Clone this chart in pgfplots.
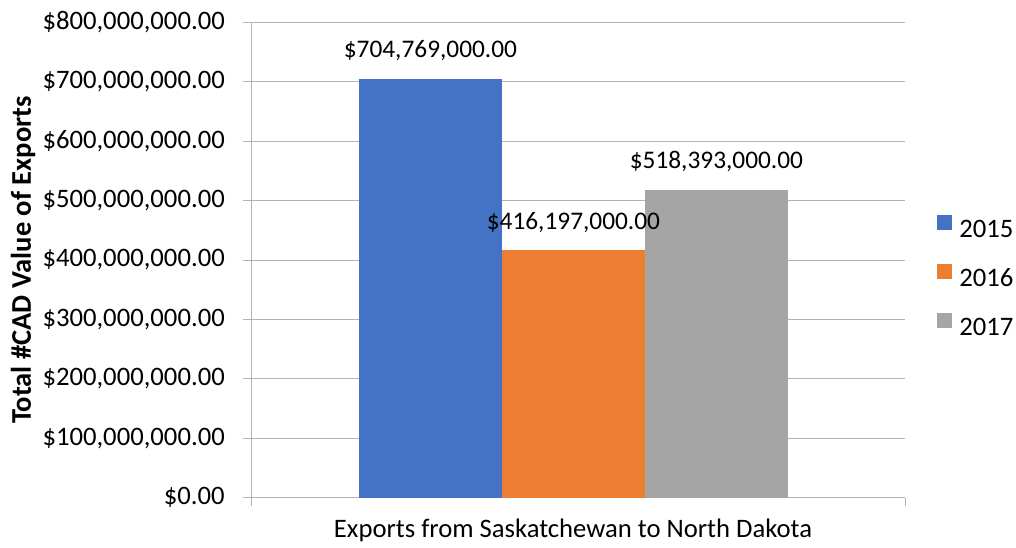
\documentclass[border=0pt]{standalone}
\usepackage{fontspec}
\setmainfont{Carlito}
\usepackage{pgfplots}
\pgfplotsset{compat=1.18}
\definecolor{c2015}{HTML}{4472C4}
\definecolor{c2016}{HTML}{ED7D31}
\definecolor{c2017}{HTML}{A5A5A5}
\definecolor{gridc}{HTML}{B3B3B3}
\pgfplotsset{
  sq legend/.style={legend image code/.code={
    \fill[##1,draw=none] (0pt,0pt) rectangle (11.25pt,11.25pt);
    \path (16.5pt,0pt);}},
}
\begin{document}
\fontsize{20pt}{24pt}\selectfont
\begin{tikzpicture}
\begin{axis}[
  at={(188.25pt,37pt)}, anchor=south west,
  scale only axis, width=490.5pt, height=356.5pt,
  ybar=0pt, bar width=107.25pt,
  xmin=-0.986, xmax=1.014,
  ymin=0, ymax=800000000,
  xtick={-0.986,1.014}, xticklabels={,},
  ytick={0,100000000,200000000,300000000,400000000,500000000,600000000,700000000,800000000},
  yticklabels={{\$0.00},{\$100,000,000.00},{\$200,000,000.00},{\$300,000,000.00},{\$400,000,000.00},{\$500,000,000.00},{\$600,000,000.00},{\$700,000,000.00},{\$800,000,000.00}},
  scaled y ticks=false,
  axis x line*=bottom, axis y line*=left,
  axis line style={gridc, line width=0.75pt},
  tick align=outside, major tick length=6pt,
  tick style={gridc, line width=0.75pt},
  ymajorgrids, grid style={gridc, line width=0.75pt},
  yticklabel style={anchor=east, inner xsep=0pt, xshift=-13.5pt, text=black},
  xlabel={Exports from Saskatchewan to North Dakota},
  x label style={at={(axis description cs:0.4924,-0.0692)}, anchor=center},
  ylabel={\fontsize{21.4pt}{25pt}\selectfont\bfseries Total \#CAD Value of Exports},
  y label style={at={(axis description cs:-0.3486,0.5)}, anchor=center},
  nodes near coords={\fontsize{19pt}{22pt}\selectfont\pgfplotspointmeta},
  point meta=explicit symbolic,
  nodes near coords style={anchor=center, yshift=21pt, text=black},
  legend style={at={(axis description cs:1.0489,0.4675)}, anchor=west,
    draw=none, fill=none, inner sep=0pt, row sep=19.8pt,
    nodes={inner sep=0pt, text height=11.25pt, text depth=0pt}},
  legend cell align=left,
]
\addplot[fill=c2015, draw=none, sq legend] table[meta=label] {
x y label
0 704769000 {\$704,769,000.00}
};
\addplot[fill=c2016, draw=none, sq legend] table[meta=label] {
x y label
0 416197000 {\$416,197,000.00}
};
\addplot[fill=c2017, draw=none, sq legend] table[meta=label] {
x y label
0 518393000 {\$518,393,000.00}
};
\legend{2015,2016,2017}
\end{axis}
\pgfresetboundingbox
\useasboundingbox (0,0) rectangle (762pt,410.25pt);
\end{tikzpicture}
\end{document}
